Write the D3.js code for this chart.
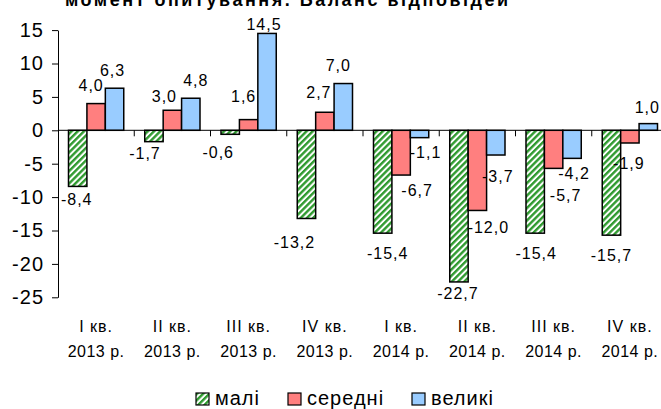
<!DOCTYPE html>
<html>
<head>
<meta charset="utf-8">
<script src="https://cdn.jsdelivr.net/npm/d3@7"></script>
<style>
  body { margin: 0; background: #fff; }
  svg { display: block; font-family: "Liberation Sans", Arial, sans-serif; }
</style>
</head>
<body>
<div id="chart"></div>
<script>
// chart data
var quarters = ["I кв.", "II кв.", "III кв.", "IV кв.", "I кв.", "II кв.", "III кв.", "IV кв."];
var years = ["2013 р.", "2013 р.", "2013 р.", "2013 р.", "2014 р.", "2014 р.", "2014 р.", "2014 р."];
var seriesNames = ["малі", "середні", "великі"];
var small = [-8.4, -1.7, -0.6, -13.2, -15.4, -22.7, -15.4, -15.7];
var medium = [4.0, 3.0, 1.6, 2.7, -6.7, -12.0, -5.7, -1.9];
var large = [6.3, 4.8, 14.5, 7.0, -1.1, -3.7, -4.2, 1.0];
var yTicks = [15, 10, 5, 0, -5, -10, -15, -20, -25];
var titleText = "момент опитування. Баланс відповідей";

var series = [small, medium, large];

// label nudges [dx, dy] relative to bar centre / bar end (Excel moved some labels)
var labelNudge = [
  [[-1, 13], [-5, -18], [-2, -18]],
  [[-9, 12], [-8, -14], [5, -18]],
  [[-12, 18], [-5, -23], [-3, -9]],
  [[-12, 24], [-6, -20], [-5, -18]],
  [[5, 20], [16, 15], [6, 15]],
  [[-1, 11], [11, 17], [2, 21]],
  [[1, 20], [12, 27], [2, 15]],
  [[0, 20], [-1, 20], [-1, -16]]
];

var width = 661, height = 409;
var fills = ["url(#hatch)", "#ff7f7f", "#99ccff"];

var svg = d3.select('#chart')
    .append('svg')
    .attr('width', width)
    .attr('height', height);

// green diagonal hatch
var defs = svg.append('defs');
var pat = defs.append('pattern')
    .attr('id', 'hatch')
    .attr('patternUnits', 'userSpaceOnUse')
    .attr('width', 4.4)
    .attr('height', 4.4)
    .attr('patternTransform', 'rotate(45)');
pat.append('rect').attr('width', 4.4).attr('height', 4.4).attr('fill', '#fff');
pat.append('rect').attr('width', 2.4).attr('height', 4.4).attr('fill', '#2f9a2f');

var x = d3.scaleBand()
    .domain(d3.range(quarters.length))
    .range([58, 668])
    .padding(0);

var xs = d3.scaleBand()
    .domain(d3.range(series.length))
    .range([0, x.bandwidth()])
    .paddingInner(0)
    .paddingOuter(0.57);

var y = d3.scaleLinear()
    .domain([-25, 15])
    .range([297.3, 30.1]);

function fmt(v) { return v.toFixed(1).replace('.', ','); }

// title (cut off at top in the original)
svg.append('text')
    .attr('x', 65)
    .attr('y', 6)
    .attr('font-size', 18)
    .attr('font-weight', 'bold')
    .attr('textLength', 443)
    .attr('lengthAdjust', 'spacing')
    .text(titleText);

// y axis
var yAxis = svg.append('g')
    .attr('transform', 'translate(58,0)')
    .call(d3.axisLeft(y).tickValues(yTicks).tickSize(6).tickSizeOuter(0)
      .tickFormat(function (d) { return String(d); }));
yAxis.select('.domain').attr('stroke', '#000').attr('stroke-width', 1);
yAxis.selectAll('.tick line').attr('stroke', '#000');
yAxis.selectAll('.tick text')
    .attr('x', -14)
    .attr('font-family', '"Liberation Sans", Arial, sans-serif')
    .attr('font-size', 20)
    .attr('letter-spacing', 1)
    .attr('fill', '#000');

// bars
var groups = svg.selectAll('.grp')
    .data(quarters)
    .enter()
    .append('g')
    .attr('class', 'grp')
    .attr('transform', function (d, i) { return 'translate(' + x(i) + ',0)'; });

groups.each(function (q, gi) {
  var g = d3.select(this);
  series.forEach(function (s, si) {
    var v = s[gi];
    g.append('rect')
        .attr('x', xs(si))
        .attr('y', Math.min(y(v), y(0)))
        .attr('width', xs.bandwidth())
        .attr('height', Math.abs(y(v) - y(0)))
        .attr('fill', fills[si])
        .attr('stroke', '#000')
        .attr('stroke-width', 1.5);
  });
});

// zero line and category ticks
svg.append('line')
    .attr('x1', 58).attr('x2', 668)
    .attr('y1', y(0)).attr('y2', y(0))
    .attr('stroke', '#000');
svg.selectAll('.ctick')
    .data(d3.range(1, quarters.length + 1))
    .enter()
    .append('line')
    .attr('x1', function (i) { return x.range()[0] + i * x.step(); })
    .attr('x2', function (i) { return x.range()[0] + i * x.step(); })
    .attr('y1', y(0))
    .attr('y2', y(0) + 6)
    .attr('stroke', '#000');

// value labels
groups.each(function (q, gi) {
  var g = d3.select(this);
  series.forEach(function (s, si) {
    var v = s[gi];
    var n = labelNudge[gi][si];
    g.append('text')
        .attr('x', xs(si) + xs.bandwidth() / 2 + n[0])
        .attr('y', y(v) + n[1])
        .attr('dy', '0.35em')
        .attr('text-anchor', 'middle')
        .attr('font-size', 16)
        .attr('letter-spacing', 1)
        .text(fmt(v));
  });
});

// category labels
groups.append('text')
    .attr('x', x.bandwidth() / 2)
    .attr('y', 332)
    .attr('text-anchor', 'middle')
    .attr('font-size', 16)
    .attr('letter-spacing', 1)
    .text(function (d) { return d; });
groups.append('text')
    .attr('x', x.bandwidth() / 2)
    .attr('y', 357)
    .attr('text-anchor', 'middle')
    .attr('font-size', 16)
    .attr('letter-spacing', 0.5)
    .text(function (d, i) { return years[i]; });

// legend
var legendX = [196, 288, 412];
var legend = svg.selectAll('.legend')
    .data(seriesNames)
    .enter()
    .append('g')
    .attr('class', 'legend')
    .attr('transform', function (d, i) { return 'translate(' + legendX[i] + ',393)'; });
legend.append('rect')
    .attr('width', 13)
    .attr('height', 12)
    .attr('fill', function (d, i) { return fills[i]; })
    .attr('stroke', '#000')
    .attr('stroke-width', 1.2);
legend.append('text')
    .attr('x', 19)
    .attr('y', 12)
    .attr('font-size', 20)
    .attr('letter-spacing', 1)
    .text(function (d) { return d; });
</script>
</body>
</html>
